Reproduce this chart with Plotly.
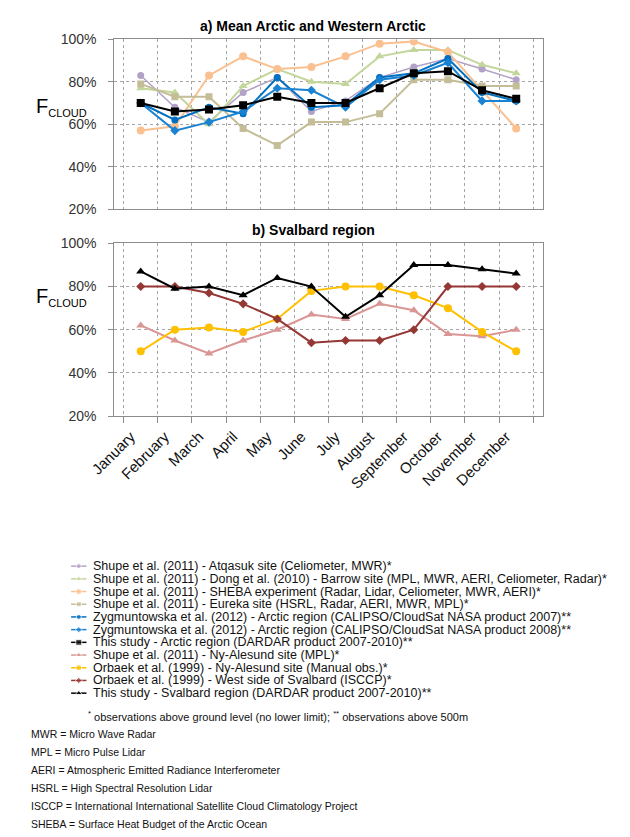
import plotly.graph_objects as go

W, H = 630, 837

months = ['January', 'February', 'March', 'April', 'May', 'June', 'July',
          'August', 'September', 'October', 'November', 'December']

# a) Mean Arctic and Western Arctic (F_cloud, %)
atqasuk = [83, 68, 61, 75, 82, 66, 71, 82, 87, 91, 86, 81]
barrow = [77, 75, 60, 78, 86, 80, 79, 92, 95, 95, 88, 84]
sheba = [57, 59, 83, 92, 86, 87, 92, 98, 99, 94, 76, 58]
eureka = [79, 73, 73, 58, 50, 61, 61, 65, 81, 81, 78, 78]
zyg_2007 = [70, 62, 68, 65, 82, 68, 69, 82, 84, 91, 75, 71]
zyg_2008 = [70, 57, 61, 66, 77, 76, 68, 81, 83, 89, 71, 71]
dardar_arctic = [70, 66, 67, 69, 73, 70, 70, 77, 84, 85, 76, 72]

# b) Svalbard region (F_cloud, %)
ny_alesund_mpl = [62, 55, 49, 55, 60, 67, 65, 72, 69, 58, 57, 60]
orbaek_manual = [50, 60, 61, 59, 65, 78, 80, 80, 76, 70, 59, 50]
orbaek_isccp = [80, 80, 77, 72, 65, 54, 55, 55, 60, 80, 80, 80]
dardar_svalbard = [87, 79, 80, 76, 84, 80, 66, 76, 90, 90, 88, 86]

legend_names = [
    'Shupe et al. (2011) - Atqasuk site (Celiometer, MWR)*',
    'Shupe et al. (2011) - Dong et al. (2010) - Barrow site (MPL, MWR, AERI, Celiometer, Radar)*',
    'Shupe et al. (2011) - SHEBA experiment (Radar, Lidar, Celiometer, MWR, AERI)*',
    'Shupe et al. (2011) - Eureka site (HSRL, Radar, AERI, MWR, MPL)*',
    'Zygmuntowska et al. (2012) - Arctic region (CALIPSO/CloudSat NASA product 2007)**',
    'Zygmuntowska et al. (2012) - Arctic region (CALIPSO/CloudSat NASA product 2008)**',
    'This study - Arctic region (DARDAR product 2007-2010)**',
    'Shupe et al. (2011) - Ny-Alesund site (MPL)*',
    'Orbaek et al. (1999) - Ny-Alesund site (Manual obs.)*',
    'Orbaek et al. (1999) - West side of Svalbard (ISCCP)*',
    'This study - Svalbard region (DARDAR product 2007-2010)**',
]

abbreviations = [
    'MWR = Micro Wave Radar',
    'MPL = Micro Pulse Lidar',
    'AERI = Atmospheric Emitted Radiance Interferometer',
    'HSRL = High Spectral Resolution Lidar',
    'ISCCP = International International Satellite Cloud Climatology Project',
    'SHEBA = Surface Heat Budget of the Arctic Ocean',
]

# (values, panel, colour, symbol, line width, marker size)
series = [
    (atqasuk, 1, '#B3A2C7', 'circle', 1.5, 7),
    (barrow, 1, '#C3D69B', 'triangle-up', 2, 8),
    (sheba, 1, '#FAC090', 'circle', 2, 8),
    (eureka, 1, '#C4BD97', 'square', 2, 7),
    (zyg_2007, 1, '#0070C0', 'circle', 2, 7),
    (zyg_2008, 1, '#1A82D2', 'diamond', 2, 7),
    (dardar_arctic, 1, '#000000', 'square', 2, 8),
    (ny_alesund_mpl, 2, '#D99694', 'triangle-up', 2, 8),
    (orbaek_manual, 2, '#FFC000', 'circle', 2, 8),
    (orbaek_isccp, 2, '#953735', 'diamond', 2, 7),
    (dardar_svalbard, 2, '#000000', 'triangle-up', 2, 8),
]

FONT = 'Liberation Sans, Arial, sans-serif'
AXIS_GREY = '#8C8C8C'
GRID_GREY = '#A6A6A6'


def fx(px):
    return px / W


def fy(px):
    return 1 - px / H


fig = go.Figure()

for i, (vals, panel, color, symbol, lw, ms) in enumerate(series):
    xa, ya = ('x', 'y') if panel == 1 else ('x2', 'y2')
    fig.add_trace(go.Scatter(
        x=months, y=vals, xaxis=xa, yaxis=ya, mode='lines+markers',
        name=legend_names[i], showlegend=False,
        line=dict(color=color, width=lw),
        marker=dict(color=color, symbol=symbol, size=ms),
    ))

    # hand made legend row, plotly's own legend spaces rows too far apart
    row_y = 569 + 12.95 * i
    fig.add_trace(go.Scatter(
        x=[48, 56, 64], y=[row_y] * 3, xaxis='x3', yaxis='y3',
        mode='lines+markers', showlegend=False, hoverinfo='skip',
        line=dict(color=color, width=1.5),
        marker=dict(color=color, symbol=symbol, size=[0, ms - 2, 0]),
    ))
    fig.add_annotation(x=fx(69), y=fy(row_y), xref='paper', yref='paper',
                       text=legend_names[i], showarrow=False,
                       xanchor='left', yanchor='middle',
                       font=dict(family=FONT, size=12.5, color='#111111'))

fig.add_annotation(x=fx(64), y=fy(722), xref='paper', yref='paper',
                   text='<sup>*</sup> observations above ground level (no lower limit); '
                        '<sup>**</sup> observations above 500m',
                   showarrow=False, xanchor='left', yanchor='middle',
                   font=dict(family=FONT, size=11, color='#111111'))

for k, line in enumerate(abbreviations):
    fig.add_annotation(x=fx(4), y=fy(740 + 18.3 * k), xref='paper', yref='paper',
                       text=line, showarrow=False, xanchor='left', yanchor='middle',
                       font=dict(family=FONT, size=10.5, color='#111111'))

# panel titles
for txt, ypx in [('a) Mean Arctic and Western Arctic', 18), ('b) Svalbard region', 226)]:
    fig.add_annotation(x=fx(300), y=fy(ypx), xref='paper', yref='paper',
                       text='<b>' + txt + '</b>', showarrow=False,
                       xanchor='center', yanchor='middle',
                       font=dict(family=FONT, size=14, color='#000000'))

# y axis titles, written flat as in the original
for ypx in [101, 295]:
    fig.add_annotation(x=fx(9), y=fy(ypx), xref='paper', yref='paper',
                       text='F<sub><span style="font-size:11px">CLOUD</span></sub>',
                       showarrow=False, xanchor='left', yanchor='middle',
                       font=dict(family=FONT, size=20, color='#000000'))

xdom = [fx(93), fx(539)]
common_x = dict(domain=xdom, type='category', categoryorder='array',
                categoryarray=months, tickson='boundaries',
                showgrid=True, gridcolor=GRID_GREY, griddash='dot', gridwidth=1,
                showline=True, mirror=True, linecolor=AXIS_GREY, linewidth=1,
                zeroline=False, fixedrange=True)
common_y = dict(range=[20, 100], dtick=20, ticksuffix='%',
                ticks='outside', ticklen=5, tickcolor=AXIS_GREY,
                ticklabelstandoff=9,
                tickfont=dict(family=FONT, size=14, color='#333333'),
                showgrid=True, gridcolor=GRID_GREY, griddash='dot', gridwidth=1,
                showline=True, mirror=True, linecolor=AXIS_GREY, linewidth=1,
                zeroline=False, fixedrange=True)

fig.update_layout(
    width=W, height=H,
    margin=dict(l=0, r=0, t=0, b=0),
    paper_bgcolor='white', plot_bgcolor='rgba(0,0,0,0)',
    showlegend=False,
    xaxis=dict(common_x, anchor='y', showticklabels=False, ticks=''),
    yaxis=dict(common_y, anchor='x', domain=[fy(205), fy(32)]),
    xaxis2=dict(common_x, anchor='y2', showticklabels=True, tickangle=-45,
                ticks='outside', ticklen=6, tickcolor=AXIS_GREY,
                ticklabelshift=-10, ticklabelstandoff=5,
                tickfont=dict(family=FONT, size=15, color='#111111')),
    yaxis2=dict(common_y, anchor='x2', domain=[fy(416), fy(240)]),
    xaxis3=dict(domain=[0, 1], range=[0, W], anchor='y3', visible=False, fixedrange=True),
    yaxis3=dict(domain=[0, 1], range=[H, 0], anchor='x3', visible=False, fixedrange=True),
)

fig.write_html("out.html", config={'displayModeBar': False},
               post_script="document.body.style.margin='0px';")
